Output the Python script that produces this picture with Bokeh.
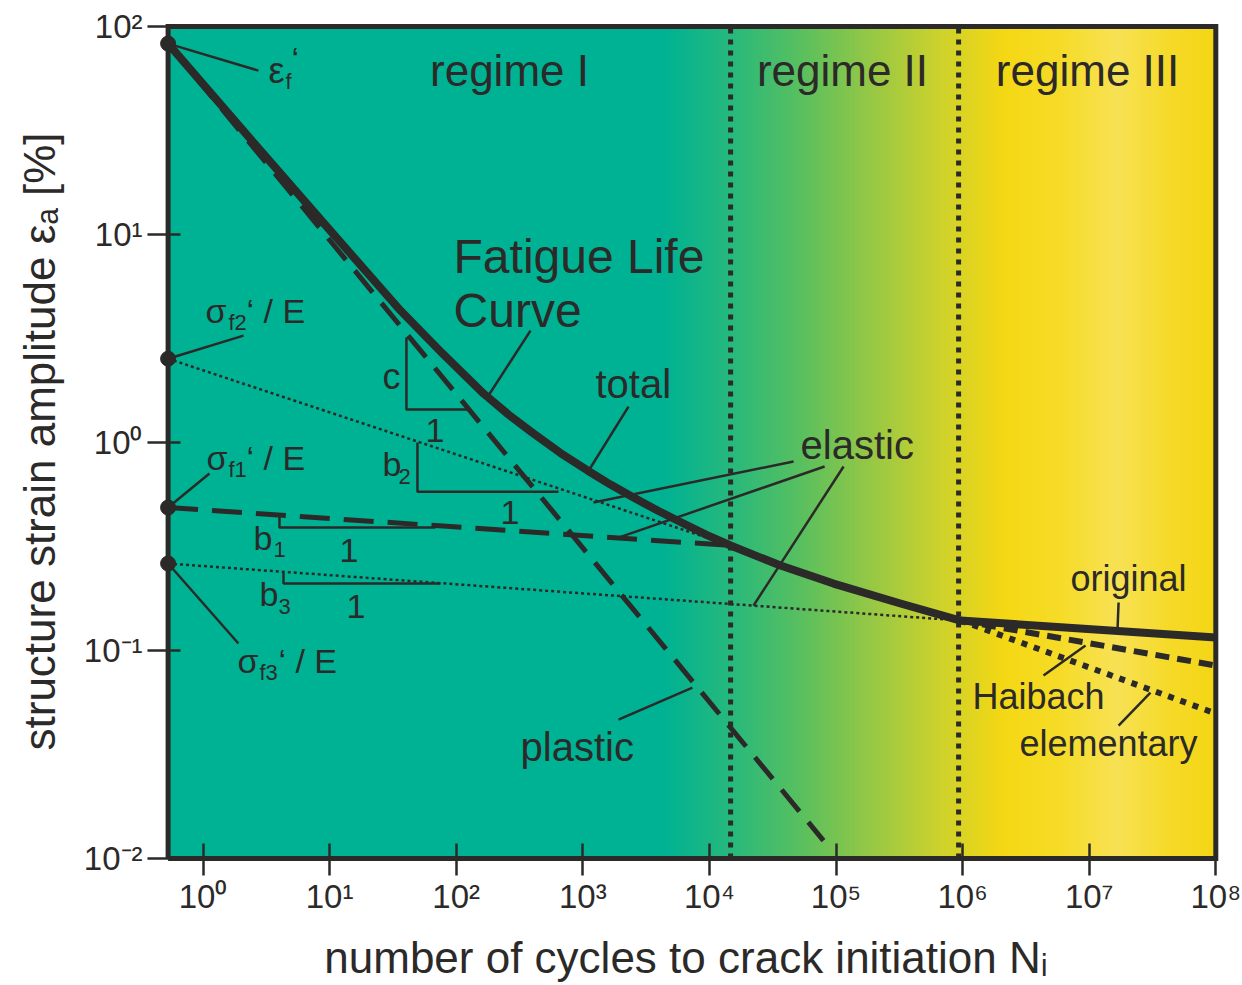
import numpy as np
from bokeh.plotting import figure
from bokeh.models import FixedTicker, Range1d, CustomJSTickFormatter
from bokeh.core.properties import value
from bokeh.embed import file_html
from bokeh.resources import INLINE

# ---------------- data ----------------
N_MIN, N_MAX = 0.53, 1e8
EPS_MIN, EPS_MAX = 0.01, 100.0

total_N = [0.53, 2.85, 9.63, 36.3, 77.9, 164.3, 259, 408, 667, 1089, 1655, 2515,
           3963, 6243, 9487, 1.468e4, 3.644e4, 9.556e4, 3.232e5, 9.62e5]
total_eps = [82.8, 25.3, 10.81, 4.31, 2.68, 1.72, 1.363, 1.105, 0.890, 0.734, 0.628, 0.544,
             0.4686, 0.408, 0.360, 0.3199, 0.2562, 0.2099, 0.1683, 0.1394]

plastic_N = [0.53, 7.96e4]
plastic_eps = [82.8, 0.0122]

elastic1_N = [0.53, 1.468e4]
elastic1_eps = [0.487, 0.3199]
elastic2_N = [0.53, 1.468e4]
elastic2_eps = [2.53, 0.3199]
elastic3_N = [0.53, 9.62e5]
elastic3_eps = [0.262, 0.1394]

regime3_N = [9.62e5, 1e8]
original_eps = [0.1394, 0.1155]
haibach_eps = [0.1394, 0.0847]
elementary_eps = [0.1394, 0.0498]

regime_bounds_N = [1.47e4, 9.3e5]

intercept_N = [0.53, 0.53, 0.53, 0.53]
intercept_eps = [82.8, 2.53, 0.487, 0.262]

x_ticks = [1e0, 1e1, 1e2, 1e3, 1e4, 1e5, 1e6, 1e7, 1e8]
y_ticks = [1e-2, 1e-1, 1e0, 1e1, 1e2]

# background colour stops (log10 N, colour)
bg_stops_logN = [-0.3, 3.63, 4.17, 4.72, 5.27, 5.82, 6.32, 6.77, 7.22, 7.64, 8.01]
bg_stops_col = ["#00b294", "#00b294", "#28b97d", "#5ac05f", "#96c846", "#cdd22d",
                "#f5d814", "#f6dc28", "#f8e255", "#f6da28", "#f5d614"]

INK = "#2b2a29"
FONT = "Liberation Sans"

# view window slightly larger than the boxed chart area so the intercept dots
# on the left edge are drawn whole; the box itself is drawn around N_MIN..N_MAX
VIEW_X = (10 ** -0.4147, 10 ** 8.045)
VIEW_Y = (10 ** -2.019, 10 ** 2.029)

p = figure(width=1242, height=985, x_axis_type="log", y_axis_type="log",
           x_range=Range1d(*VIEW_X), y_range=Range1d(*VIEW_Y),
           output_backend="svg", toolbar_location=None,
           min_border_left=150, min_border_right=21, min_border_top=20, min_border_bottom=123)
p.grid.visible = False
p.outline_line_color = None
p.background_fill_color = "white"
p.border_fill_color = "white"

# gradient background of the chart box
cols = 1050
lg = np.linspace(np.log10(N_MIN), np.log10(N_MAX), cols)
rgb = np.array([[int(c[i:i + 2], 16) for i in (1, 3, 5)] for c in bg_stops_col], dtype=float)
img = np.empty((1, cols), dtype=np.uint32)
view = img.view(dtype=np.uint8).reshape((1, cols, 4))
for k in range(3):
    view[0, :, k] = np.interp(lg, bg_stops_logN, rgb[:, k]).astype(np.uint8)
view[0, :, 3] = 255
p.image_rgba(image=[img], x=N_MIN, y=EPS_MIN, dw=N_MAX - N_MIN, dh=EPS_MAX - EPS_MIN)

# regime boundaries
for nb in regime_bounds_N:
    p.line([nb, nb], [EPS_MIN, EPS_MAX], line_color=INK, line_width=5, line_dash="5 6")

# elastic lines
p.line(elastic2_N, elastic2_eps, line_color=INK, line_width=2.5, line_dash="3 3")
p.line(elastic3_N, elastic3_eps, line_color=INK, line_width=2.5, line_dash="3 3")
p.line(elastic1_N, elastic1_eps, line_color=INK, line_width=5, line_dash="30 14")
# plastic
p.line(plastic_N, plastic_eps, line_color=INK, line_width=5, line_dash="28 14")
# total
p.line(total_N, total_eps, line_color=INK, line_width=8, line_join="round", line_cap="round")
# regime III variants
p.line(regime3_N, original_eps, line_color=INK, line_width=8)
p.line(regime3_N, haibach_eps, line_color=INK, line_width=6, line_dash="14 8")
p.line(regime3_N, elementary_eps, line_color=INK, line_width=6, line_dash="6 7")

# chart box
p.line([N_MIN, N_MAX, N_MAX, N_MIN, N_MIN], [EPS_MIN, EPS_MIN, EPS_MAX, EPS_MAX, EPS_MIN],
       line_color=INK, line_width=5, line_join="miter")

# intercept dots
p.scatter(intercept_N, intercept_eps, size=15, color=INK)

# leader lines (log10 coordinates)
leaders = [
    ((np.log10(0.53), np.log10(82.8)), (0.438, 1.788)),
    ((np.log10(0.53), np.log10(2.53)), (0.320, 0.514)),
    ((np.log10(0.53), np.log10(0.487)), (0.051, -0.149)),
    ((np.log10(0.53), np.log10(0.262)), (0.280, -0.966)),
    ((2.587, 0.538), (2.255, 0.226)),
    ((3.361, 0.173), (3.037, -0.144)),
    ((4.665, -0.091), (3.084, -0.288)),
    ((4.910, -0.115), (3.282, -0.457)),
    ((5.060, -0.115), (4.348, -0.784)),
    ((3.282, -1.332), (3.866, -1.178)),
    ((7.232, -0.769), (7.224, -0.894)),
    ((6.639, -1.120), (6.971, -0.976)),
    ((7.232, -1.361), (7.484, -1.202)),
]
p.segment(x0=[10 ** a[0] for a, b in leaders], y0=[10 ** a[1] for a, b in leaders],
          x1=[10 ** b[0] for a, b in leaders], y1=[10 ** b[1] for a, b in leaders],
          line_color=INK, line_width=2.5)

# slope triangles (log10 coordinates)
triangles = [
    ([1.607, 1.607, 2.089], [0.505, 0.159, 0.159]),
    ([1.694, 1.694, 2.808], [0.0, -0.236, -0.236]),
    ([0.604, 0.604, 1.836], [-0.341, -0.409, -0.409]),
    ([0.636, 0.636, 1.876], [-0.625, -0.678, -0.678]),
]
p.multi_line(xs=[[10 ** v for v in t[0]] for t in triangles],
             ys=[[10 ** v for v in t[1]] for t in triangles],
             line_color=INK, line_width=2.5)

# texts: (text, logN, logEps of baseline, size, align)
texts = [
    ("regime I", 2.421, 1.731, 44, "center"),
    ("regime II", 5.051, 1.731, 44, "center"),
    ("regime III", 6.987, 1.731, 44, "center"),
    ("Fatigue Life", 1.979, 0.832, 48, "left"),
    ("Curve", 1.979, 0.572, 48, "left"),
    ("total", 3.100, 0.231, 40, "left"),
    ("elastic", 4.720, -0.0625, 40, "left"),
    ("plastic", 2.508, -1.514, 40, "left"),
    ("original", 6.852, -0.702, 36, "left"),
    ("Haibach", 6.078, -1.269, 36, "left"),
    ("elementary", 6.449, -1.495, 36, "left"),
    ("c", 1.418, 0.269, 36, "left"),
    ("1", 1.757, 0.0144, 34, "left"),
    ("b", 1.418, -0.149, 34, "left"),
    ("2", 1.544, -0.192, 22, "left"),
    ("1", 2.350, -0.380, 34, "left"),
    ("b", 0.399, -0.505, 34, "left"),
    ("1", 0.557, -0.543, 22, "left"),
    ("1", 1.078, -0.5625, 34, "left"),
    ("b", 0.446, -0.774, 34, "left"),
    ("3", 0.596, -0.817, 22, "left"),
    ("1", 1.133, -0.832, 34, "left"),
    ("σ", 0.020, 0.587, 34, "left"),
    ("f2", 0.201, 0.548, 22, "left"),
    ("‘ / E", 0.344, 0.587, 34, "left"),
    ("σ", 0.028, -0.120, 34, "left"),
    ("f1", 0.201, -0.159, 22, "left"),
    ("‘ / E", 0.344, -0.120, 34, "left"),
    ("σ", 0.273, -1.096, 34, "left"),
    ("f3", 0.446, -1.135, 22, "left"),
    ("‘ / E", 0.596, -1.096, 34, "left"),
    ("ε", 0.517, 1.740, 36, "left"),
    ("f", 0.652, 1.707, 22, "left"),
    ("‘", 0.700, 1.800, 34, "left"),
]
for t, lx, ly, sz, al in texts:
    ly_adj = ly + 0.27 * sz / 208.0
    p.text(x=[10 ** lx], y=[10 ** ly_adj], text=[t], text_font=value(FONT),
           text_font_size=value(f"{sz}px"), text_color=INK, text_align=al,
           text_baseline="alphabetic")

# axes
sup_js = """
const m = {"-":"\u207b","0":"\u2070","1":"\u00b9","2":"\u00b2","3":"\u00b3","4":"\u2074",
           "5":"\u2075","6":"\u2076","7":"\u2077","8":"\u2078","9":"\u2079"};
const e = Math.round(Math.log10(tick));
return "10" + String(e).split("").map(c => m[c]).join("");
"""
for ax, ticks in ((p.xaxis, x_ticks), (p.yaxis, y_ticks)):
    ax.ticker = FixedTicker(ticks=ticks)
    ax.formatter = CustomJSTickFormatter(code=sup_js)
    ax.axis_line_color = None
    ax.major_tick_line_color = INK
    ax.major_tick_line_width = 2.5
    ax.minor_tick_in = 0
    ax.minor_tick_out = 0
    ax.major_label_text_font = FONT
    ax.major_label_text_font_size = "33px"
    ax.major_label_text_color = INK
    ax.axis_label_text_font = FONT
    ax.axis_label_text_font_size = "44px"
    ax.axis_label_text_font_style = "normal"
    ax.axis_label_text_color = INK

# ticks cross the drawn box edge (box sits 17 px right of / 5 px above the axis line)
p.yaxis.major_tick_out = 3
p.yaxis.major_tick_in = 30
p.xaxis.major_tick_out = 13
p.xaxis.major_tick_in = 19

p.xaxis.axis_label = "number of cycles to crack initiation N\u1d62"
p.yaxis.axis_label = "structure strain amplitude \u03b5\u2090 [%]"
p.xaxis.major_label_standoff = 2
p.yaxis.major_label_standoff = 5
p.xaxis.axis_label_standoff = 15
p.yaxis.axis_label_standoff = 17

open("out.html", "w").write(file_html(p, INLINE))
